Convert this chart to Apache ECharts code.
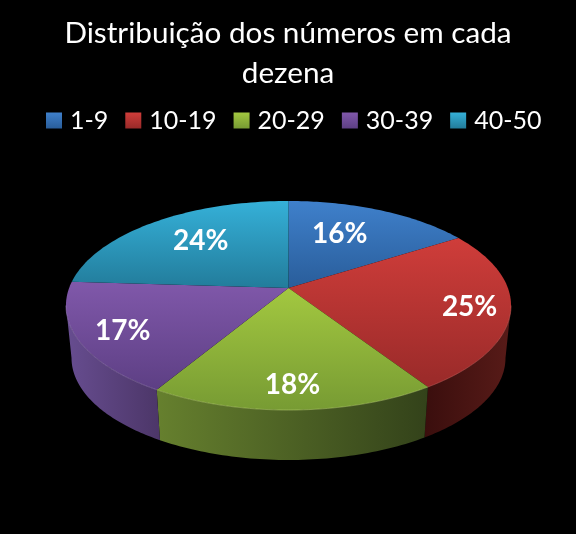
<!DOCTYPE html>
<html><head><meta charset="utf-8">
<style>html,body{margin:0;padding:0;background:#000}#c{width:576px;height:534px}</style>
<script src="https://cdn.jsdelivr.net/npm/echarts@6/dist/echarts.min.js"></script>
</head><body><div id="c"></div>
<script>
const categories = ['1-9','10-19','20-29','30-39','40-50'];
const values = [16, 24.8, 17.8, 17.4, 24];
const titleText = 'Distribuição dos números em cada\ndezena';

const topColors  = [['#3f80cb','#295d9a'],['#cf3d3a','#992a29'],['#a3c840','#779b33'],['#8058aa','#5d3f84'],['#35b0d8','#227c9b']];
const sideColors = [['#2b5a90','#1f4168'],['#3a0e0d','#581b18'],['#66802e','#33421a'],['#674d90','#4c3668'],['#227c9b','#1a5c72']];
const rimColors  = ['#6a9ad6','#d96a66','#c4dc7a','#a68cc8','#6cc6e2'];
const labelRadii = [0.60, 0.82, 0.82, 0.80, 0.66];
const labelNudge = [[-7,-5],[0,1],[0,0],[0,3],[4,-2]];

const CX = 288.5, TOP_Y = 288, A = 219.4, B = 101.6, K = 0.1675;
const BOT_Y = 341, BOT_S = 0.975, STEPS = 60;
const total = values.reduce((a,b)=>a+b,0);
// angles at which the rim is widest: only the part between them faces the viewer
const EDGE_R = Math.acos(-K)*180/Math.PI, EDGE_L = 360-EDGE_R;

function project(deg, r, cy, s){
  const t = deg*Math.PI/180, u = Math.sin(t)*r, v = -Math.cos(t)*r, w = 1 - K*v;
  return [CX + s*A*u/w, cy + s*B*v/w];
}
function arc(a0, a1, cy, s){
  const pts = [];
  for(let i=0;i<=STEPS;i++) pts.push(project(a0+(a1-a0)*i/STEPS,1,cy,s));
  return pts;
}
function grad(c, horizontal){
  return new echarts.graphic.LinearGradient(0,0,horizontal?1:0,horizontal?0:1,[{offset:0,color:c[0]},{offset:1,color:c[1]}]);
}
function sliceRenderer(idx){
  return function(){
    let start = 0;
    for(let i=0;i<idx;i++) start += values[i];
    const a0 = start/total*360, a1 = (start+values[idx])/total*360;
    const topArc = arc(a0,a1,TOP_Y,1);
    const mid = (a0+a1)/2, lp = project(mid,labelRadii[idx],TOP_Y,1);
    const kids = [
      {type:'polygon',z2:2,shape:{points:[[CX,TOP_Y]].concat(topArc)},style:{fill:grad(topColors[idx],false)}},
      {type:'text',z2:4,style:{text:Math.round(values[idx]/total*100)+'%',x:lp[0]+labelNudge[idx][0],y:lp[1]+labelNudge[idx][1],align:'center',verticalAlign:'middle',fill:'#fff',font:'bold 28px Lato'}}
    ];
    const f0 = Math.max(a0,EDGE_R), f1 = Math.min(a1,EDGE_L);
    if(f1 > f0){
      const frontTop = arc(f0,f1,TOP_Y,1), frontBot = arc(f0,f1,BOT_Y,BOT_S);
      kids.push({type:'polygon',z2:1,shape:{points:frontTop.concat(frontBot.slice().reverse())},style:{fill:grad(sideColors[idx],true)}});
      kids.push({type:'polyline',z2:3,shape:{points:frontTop},style:{fill:null,stroke:rimColors[idx],lineWidth:1,opacity:0.45}});
    }
    return {type:'group',children:kids};
  };
}
const chart = echarts.init(document.getElementById('c'),null,{renderer:'canvas'});
chart.setOption({
  backgroundColor:'#000',
  animation:false,
  title:{text:titleText,left:'center',top:8,textStyle:{color:'#fff',fontFamily:'Lato',fontSize:29.7,fontWeight:'normal',lineHeight:40}},
  legend:{left:46,top:108,padding:0,itemWidth:16,itemHeight:16,itemGap:17,icon:'rect',
    textStyle:{color:'#fff',fontFamily:'Lato',fontSize:25,padding:[0,0,0,3]},
    data:categories.map((n,i)=>({name:n,icon:'rect',itemStyle:{color:grad(topColors[i],false)}}))},
  series:categories.map((n,i)=>({
    type:'custom',name:n,coordinateSystem:'none',data:[[values[i]]],
    itemStyle:{color:topColors[i][0]},renderItem:sliceRenderer(i),silent:true
  }))
});
</script></body></html>
